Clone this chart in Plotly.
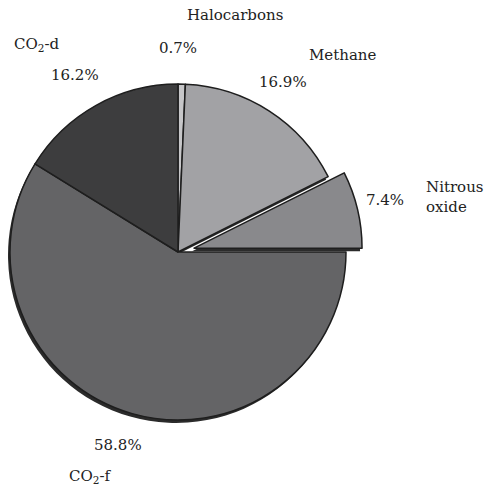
import math
import plotly.graph_objects as go

# Share of greenhouse-gas emissions by gas
gases = ["Halocarbons", "Methane", "Nitrous oxide", "CO2-f", "CO2-d"]
shares = [0.7, 16.9, 7.4, 58.8, 16.2]
label_names = ["Halocarbons", "Methane", "Nitrous<br>oxide", "CO<sub>2</sub>-f", "CO<sub>2</sub>-d"]
fills = ["#c6c6c8", "#a2a2a5", "#89898c", "#646466", "#3d3d3e"]

W, H = 485, 488
CX, CY, R = 178, 252, 168          # pie centre / radius in pixels
PULL_PX = 16.5                     # exploded slice offset
SHADOW_DX, SHADOW_DY = -2, 3       # drop shadow offset
SHADOW = "#2b2b2b"
EDGE = "#1e1e1e"
pulled = gases.index("Nitrous oxide")

# direction of the exploded slice (clockwise from 12 o'clock)
total = sum(shares)
start = sum(shares[:pulled]) / total * 360
mid = math.radians(start + shares[pulled] / total * 360 / 2)
PDX, PDY = PULL_PX * math.sin(mid), -PULL_PX * math.cos(mid)


def domain(cx, cy):
    return dict(x=[(cx - R) / W, (cx + R) / W],
                y=[1 - (cy + R) / H, 1 - (cy - R) / H])


def pie(colors, widths, cx, cy):
    return go.Pie(labels=gases, values=shares, sort=False, direction="clockwise",
                  rotation=0, textinfo="none", hoverinfo="skip", showlegend=False,
                  marker=dict(colors=colors, line=dict(color=EDGE, width=widths)),
                  domain=domain(cx, cy))


clear = "rgba(0,0,0,0)"
only = lambda i, c: [c if k == i else clear for k in range(len(gases))]
but = lambda i, c: [clear if k == i else (c[k] if isinstance(c, list) else c) for k in range(len(gases))]

fig = go.Figure()
# shadows
fig.add_trace(pie(but(pulled, SHADOW), 0, CX + SHADOW_DX, CY + SHADOW_DY))
fig.add_trace(pie(only(pulled, SHADOW), 0, CX + PDX + SHADOW_DX, CY + PDY + SHADOW_DY))
# slices
fig.add_trace(pie(but(pulled, fills), [0 if k == pulled else 1.5 for k in range(len(gases))], CX, CY))
fig.add_trace(pie(only(pulled, fills[pulled]), [1.5 if k == pulled else 0 for k in range(len(gases))],
                  CX + PDX, CY + PDY))

# label placement (pixels): name position, percent position
placement = {
    "Halocarbons": ((235, 15, "center"), (178, 48, "center")),
    "Methane": ((343, 55, "center"), (283, 82, "center")),
    "Nitrous oxide": ((424, 197, "left"), (385, 200, "center")),
    "CO2-f": ((90, 476, "center"), (118, 445, "center")),
    "CO2-d": ((37, 45, "center"), (75, 75, "center")),
}
font = dict(family="DejaVu Serif", size=15, color="#222")
for g, name, v in zip(gases, label_names, shares):
    (nx, ny, nal), (px, py, pal) = placement[g]
    xa = {"center": "center", "left": "left"}
    fig.add_annotation(x=nx / W, y=1 - ny / H, xref="paper", yref="paper", text=name,
                       showarrow=False, xanchor=xa[nal], yanchor="middle", align=nal, font=font)
    fig.add_annotation(x=px / W, y=1 - py / H, xref="paper", yref="paper", text=f"{v:.1f}%",
                       showarrow=False, xanchor="center", yanchor="middle", font=font)

fig.update_layout(width=W, height=H, margin=dict(l=0, r=0, t=0, b=0),
                  paper_bgcolor="white", plot_bgcolor="white")
fig.write_html("out.html")
